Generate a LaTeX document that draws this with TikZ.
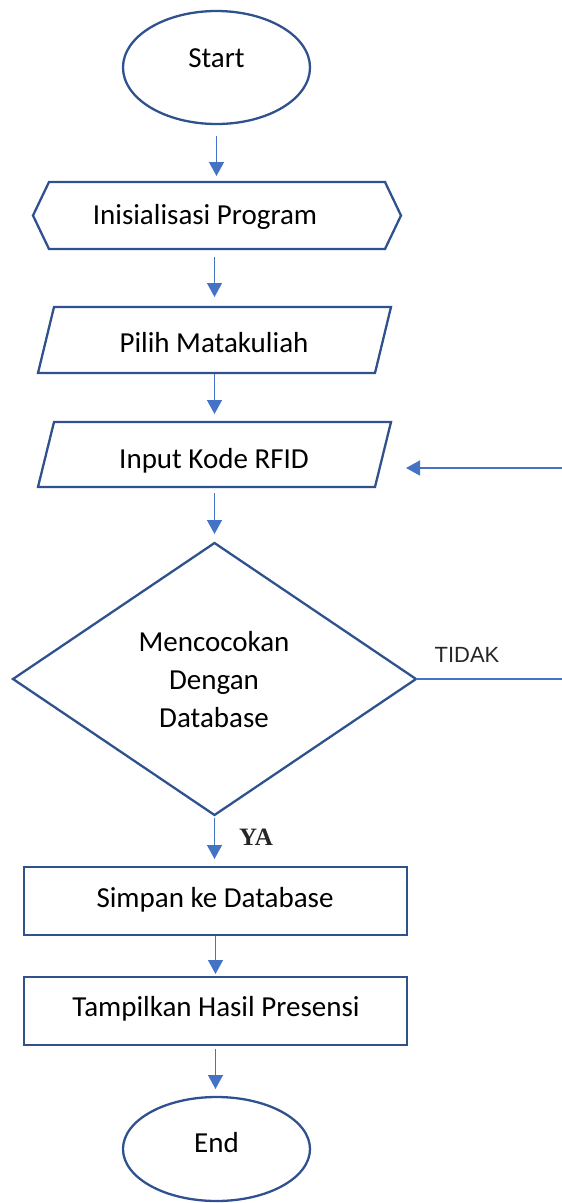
\documentclass[tikz,border=0pt]{standalone}
\usepackage{fontspec}
\setmainfont{Carlito}
\newfontfamily\labelsans{Liberation Sans}
\newfontfamily\labelserif{Liberation Serif}
\usetikzlibrary{arrows.meta,calc}
\definecolor{outline}{HTML}{2F528F}
\definecolor{flowblue}{HTML}{4472C4}

\begin{document}
\begin{tikzpicture}[x=1pt,y=-1pt,
  slot/.style={draw=none,inner sep=0pt,outer sep=0pt},
  outl/.style={draw=outline,line width=2.3pt,line join=miter},
  flow/.style={draw=flowblue,line width=1.3pt,-{Triangle[width=15pt,length=14pt]}},
  plainline/.style={draw=flowblue,line width=1.4pt},
  txt/.style={font=\fontsize{29}{35}\selectfont,anchor=base,inner sep=0pt},
  tidak/.style={font=\labelsans\fontsize{22}{26}\selectfont,anchor=base,inner sep=0pt,text=black!85},
  ya/.style={font=\labelserif\bfseries\fontsize{25}{30}\selectfont,anchor=base,inner sep=0pt,text=black!85}]

\useasboundingbox (0,0) rectangle (562,1203);

% Start terminal
\node[slot,minimum width=187pt,minimum height=113pt] (start) at (216.5,67.5) {};
\draw[outl] (start.center) ellipse [x radius=93.5pt,y radius=56.5pt];
\node[txt] (start-t) at (216.5,67) {Start};

% Preparation (hexagon)
\node[slot,minimum width=368pt,minimum height=67pt] (init) at (217,215.5) {};
\draw[outl] (init.west) -- ($(init.north west)+(16,0)$) -- ($(init.north east)+(-16,0)$)
  -- (init.east) -- ($(init.south east)+(-16,0)$) -- ($(init.south west)+(16,0)$) -- cycle;
\node[txt] (init-t) at (205,224) {Inisialisasi Program};

% Input: choose course
\node[slot,minimum width=353pt,minimum height=66pt] (pilih) at (214.5,340) {};
\draw[outl] ($(pilih.north west)+(16,0)$) -- (pilih.north east)
  -- ($(pilih.south east)+(-16,0)$) -- (pilih.south west) -- cycle;
\node[txt] (pilih-t) at (214,352) {Pilih Matakuliah};

% Input: RFID code
\node[slot,minimum width=353pt,minimum height=65pt] (input) at (214.5,454.5) {};
\draw[outl] ($(input.north west)+(16,0)$) -- (input.north east)
  -- ($(input.south east)+(-16,0)$) -- (input.south west) -- cycle;
\node[txt] (input-t) at (214,468) {Input Kode RFID};

% Decision
\node[slot,minimum width=403pt,minimum height=272pt] (cek) at (214.5,679) {};
\draw[outl] (cek.north) -- (cek.east) -- (cek.south) -- (cek.west) -- cycle;
\node[txt] (cek-t1) at (214,651) {Mencocokan};
\node[txt] (cek-t2) at (214,689) {Dengan};
\node[txt] (cek-t3) at (214,727) {Database};

% Process boxes
\node[slot,minimum width=383pt,minimum height=68pt] (simpan) at (215.5,901) {};
\draw[outl] (simpan.north west) rectangle (simpan.south east);
\node[txt] (simpan-t) at (215,907) {Simpan ke Database};

\node[slot,minimum width=383pt,minimum height=68pt] (tampil) at (215.5,1011) {};
\draw[outl] (tampil.north west) rectangle (tampil.south east);
\node[txt] (tampil-t) at (216,1016) {Tampilkan Hasil Presensi};

% End terminal
\node[slot,minimum width=187pt,minimum height=104pt] (end) at (216.5,1149) {};
\draw[outl] (end.center) ellipse [x radius=93.5pt,y radius=52pt];
\node[txt] (end-t) at (216.5,1152) {End};

% Branch labels
\node[tidak] (no) at (467,662.5) {TIDAK};
\node[ya] (yes) at (256,845) {YA};

% Main flow
\draw[flow,shorten <=12pt,shorten >=6pt] (start.south) -- (start.south |- init.north);
\draw[flow,shorten <=8pt,shorten >=10pt] (init.south -| pilih.north) -- (pilih.north);
\draw[flow,shorten <=1pt,shorten >=8pt] (pilih.south) -- (input.north);
\draw[flow,shorten <=6pt,shorten >=9pt] (input.south) -- (cek.north);
\draw[flow,shorten <=3pt,shorten >=8pt] (cek.south) -- (cek.south |- simpan.north);
\draw[flow,shorten <=1pt,shorten >=3pt] (simpan.south) -- (tampil.north);
\draw[flow,shorten <=4pt,shorten >=8pt] (tampil.south) -- (tampil.south |- end.north);

% Loop back on mismatch
\coordinate (loopout) at (562,679);
\coordinate (loopin) at (562,468);
\draw[plainline] (cek.east) -- (loopout);
\draw[plainline,-{Triangle[width=15pt,length=14pt]},shorten >=15pt] (loopin) -- (loopin -| input.east);
\end{tikzpicture}
\end{document}
